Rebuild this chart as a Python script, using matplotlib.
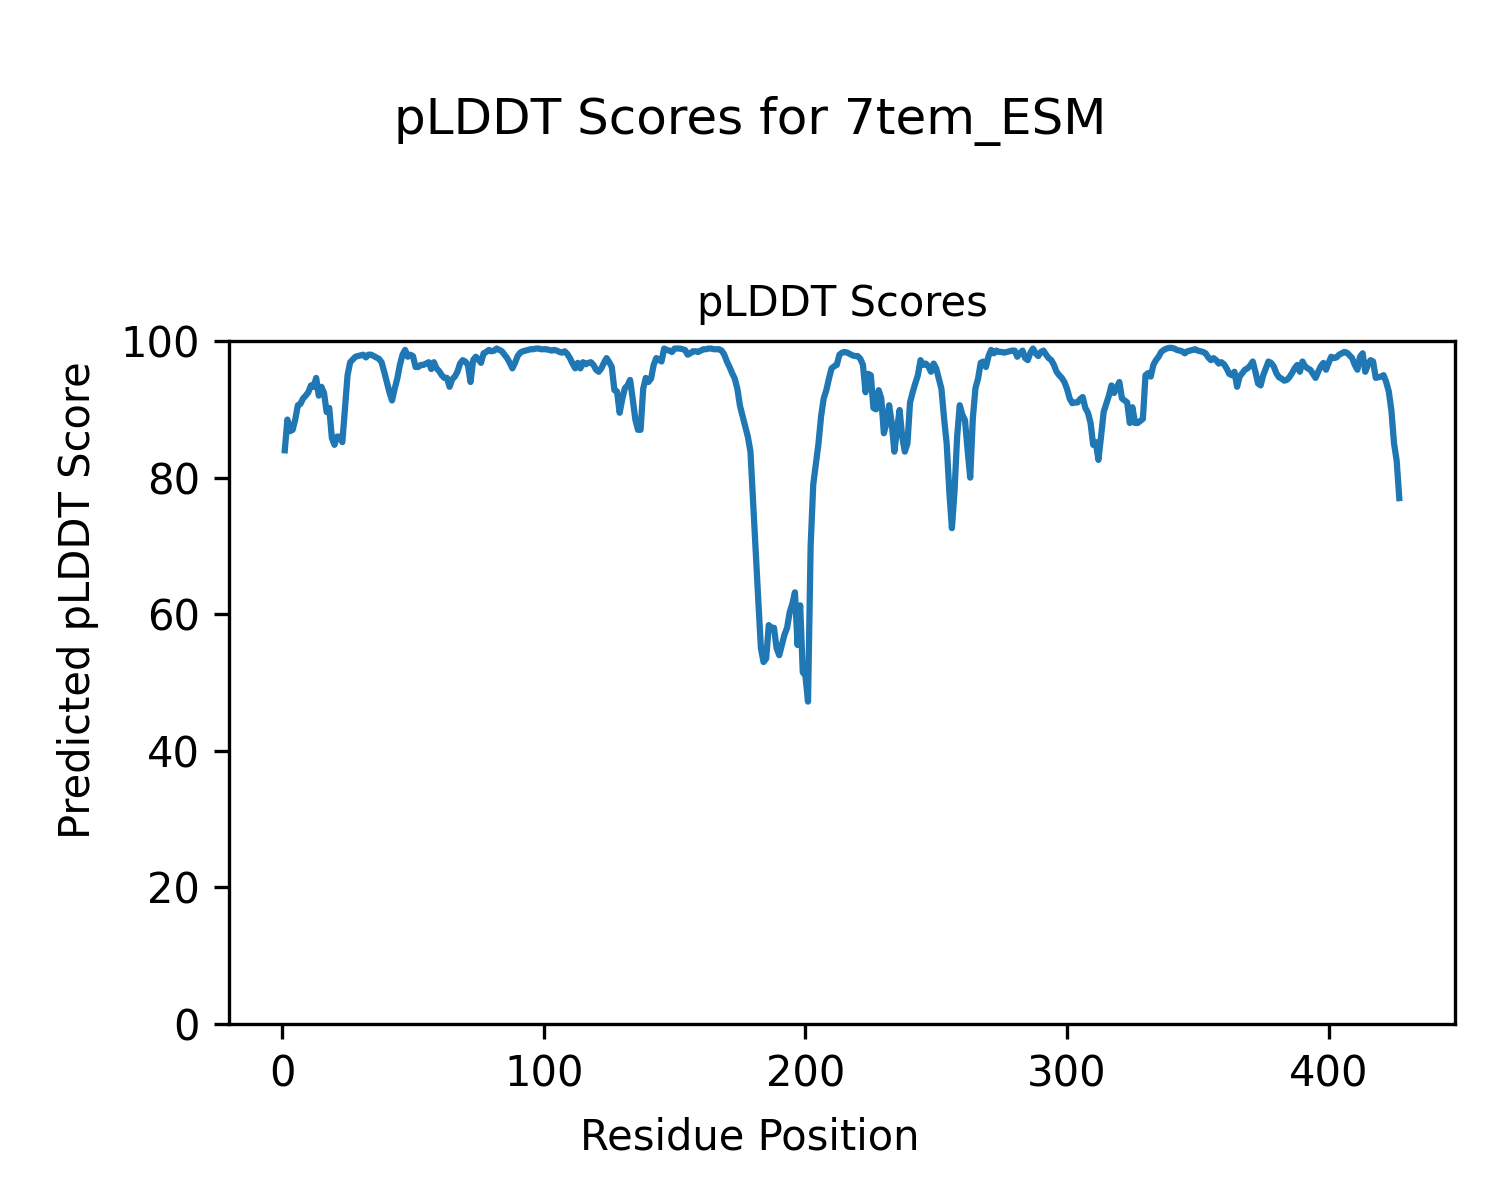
import numpy as np
import matplotlib
matplotlib.use("Agg")
import matplotlib.pyplot as plt

# Valores pLDDT (un valor por residuo, posicion 1..427)
nombre_modelo = "7tem_ESM"

plddt_1_50 = [84, 88.5, 86.8, 87, 88.5, 90.6, 90.8, 91.6, 92, 92.5,
              93.5, 93.3, 94.6, 92, 93.3, 92.4, 89.6, 90.2, 85.8, 84.8,
              86, 86, 85.2, 90, 95, 96.9, 97.3, 97.7, 97.8, 97.9,
              98, 97.6, 98, 98, 97.8, 97.6, 97.4, 96.9, 95.5, 94,
              92.5, 91.3, 93, 94.5, 96.5, 98, 98.7, 97.7, 98, 97.8]
plddt_51_100 = [96.2, 96.2, 96.5, 96.5, 96.7, 96.9, 95.9, 96.9, 96, 95.6,
                95, 94.6, 94.6, 93.3, 94.4, 94.8, 95.5, 96.7, 97.2, 97,
                96.5, 94, 97.2, 97.7, 97.3, 96.8, 98.2, 98.4, 98.7, 98.5,
                98.6, 98.9, 98.7, 98.5, 98, 97.5, 96.8, 96, 96.8, 97.8,
                98.3, 98.5, 98.6, 98.7, 98.8, 98.8, 98.9, 98.9, 98.8, 98.8]
plddt_101_150 = [98.8, 98.7, 98.6, 98.7, 98.6, 98.4, 98.3, 98.5, 98.1, 97.5,
                 96.7, 96, 96.8, 96, 96.9, 96.6, 96.8, 96.9, 96.5, 95.8,
                 95.5, 96, 96.8, 97.5, 96.9, 96.2, 92.8, 92.6, 89.5, 91.5,
                 93.1, 93.5, 94.3, 91.5, 88.5, 87, 87, 93, 94.6, 94,
                 94.5, 96.5, 97.5, 97.3, 97, 98.9, 98.7, 98.6, 98.4, 98.9]
plddt_151_200 = [98.9, 98.9, 98.8, 98.7, 98, 98.2, 98.5, 98.5, 98.4, 98.6,
                 98.8, 98.8, 98.9, 98.9, 98.8, 98.8, 98.8, 98.6, 98, 97,
                 96.2, 95.3, 94.5, 93, 90.5, 89, 87.5, 86, 83.8, 76.5,
                 69, 62, 55, 53, 53.5, 58.4, 58, 58, 55, 54,
                 55.5, 57, 58, 60.3, 61.5, 63.2, 55.5, 61.3, 51.5, 51]
plddt_201_250 = [47.2, 70, 79, 82, 85, 89, 91.6, 92.8, 94.5, 96,
                 96.3, 96.5, 98, 98.3, 98.4, 98.3, 98.1, 97.9, 97.8, 97.8,
                 97.4, 96.5, 92.5, 95.2, 95, 90.2, 90, 92.8, 91.6, 86.5,
                 88, 90.6, 88, 83.8, 87, 89.9, 86, 83.8, 85, 91,
                 92.5, 93.8, 95, 97.2, 96.5, 96.7, 96.3, 95.5, 96.7, 96]
plddt_251_300 = [94.5, 93, 88.7, 85, 78, 72.6, 78, 86, 90.6, 89.2,
                 88.4, 84, 80, 88.7, 93.1, 94.5, 96.8, 97, 96.2, 97.8,
                 98.7, 98.2, 98.6, 98.4, 98.4, 98.3, 98.4, 98.5, 98.6, 98.6,
                 97.7, 98.2, 98.6, 97.5, 97.2, 98.3, 98.9, 98.2, 97.8, 98.4,
                 98.6, 98, 97.5, 97.2, 96.5, 95.5, 95, 94.6, 94, 93]
plddt_301_350 = [91.6, 90.9, 91, 91, 91.5, 91.8, 90.2, 89.5, 88, 84.8,
                 85.2, 82.6, 86, 89.6, 90.8, 92, 93.5, 92.4, 93.2, 94,
                 91.6, 91.3, 91, 88, 90.3, 88, 88, 88.3, 88.6, 95,
                 95.3, 94.8, 96.5, 97.2, 97.7, 98.4, 98.7, 98.9, 99, 99,
                 98.9, 98.7, 98.6, 98.5, 98.2, 98.5, 98.6, 98.7, 98.8, 98.6]
plddt_351_400 = [98.5, 98.4, 98.2, 97.6, 97.2, 97.5, 97.2, 96.7, 96.9, 96.6,
                 96, 95.2, 95, 95.5, 93.3, 94.8, 95.3, 95.8, 96, 96.4,
                 97, 95.5, 93.8, 93.5, 95, 96, 97, 96.8, 96.3, 95.3,
                 94.7, 94.5, 94.2, 94.3, 94.7, 95.3, 96, 96.5, 95.5, 97,
                 96.3, 96, 95.8, 95.2, 94.6, 95.5, 96.3, 96.8, 95.8, 96.8]
plddt_401_427 = [97.7, 97.5, 97.6, 98, 98.2, 98.4, 98.3, 97.9, 97.5, 96.5,
                 95.8, 97.7, 98.2, 95.5, 96.5, 97.2, 97, 94.6, 94.7, 94.8,
                 95, 94, 92.6, 89.8, 85, 82.5, 77]

plddt = (plddt_1_50 + plddt_51_100 + plddt_101_150 + plddt_151_200
         + plddt_201_250 + plddt_251_300 + plddt_301_350 + plddt_351_400
         + plddt_401_427)
posiciones = np.arange(1, len(plddt) + 1)

# --- Grafica ---
fig = plt.figure(figsize=(5, 4), dpi=300)
ax = fig.add_axes([0.1527, 0.1467, 0.8173, 0.5691])

ax.plot(posiciones, plddt, color="C0", linewidth=1.5)
ax.set_ylim(0, 100)
ax.set_title("pLDDT Scores", fontsize=10)

fig.suptitle(f"pLDDT Scores for {nombre_modelo}", y=0.92)
fig.supxlabel("Residue Position", y=0.052, va="center", fontsize=10)
fig.supylabel("Predicted pLDDT Score", x=0.052, ha="center", fontsize=10)

fig.savefig("out.png")
plt.close(fig)
